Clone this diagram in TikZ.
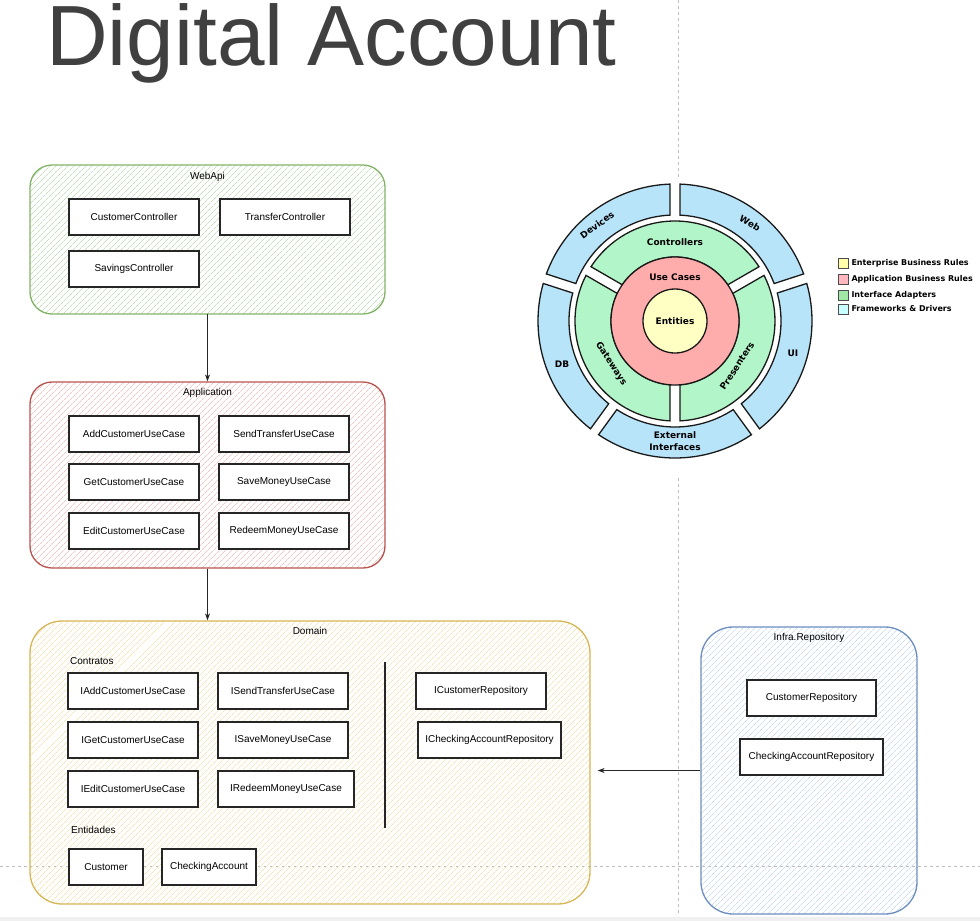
\documentclass[tikz,border=0pt]{standalone}
\usepackage{fontspec}
\setmainfont{Liberation Sans}
\newfontfamily\cebola{DejaVu Sans}
\usetikzlibrary{positioning,arrows.meta,patterns.meta}

\definecolor{titulo}{RGB}{64,64,64}
\definecolor{verdeBorda}{HTML}{82B366}
\definecolor{verdeHach}{HTML}{C6E0BE}
\definecolor{vermBorda}{HTML}{B85450}
\definecolor{vermHach}{HTML}{F3C6C4}
\definecolor{amarBorda}{HTML}{D6B656}
\definecolor{amarHach}{HTML}{F5E4B4}
\definecolor{azulBorda}{HTML}{6C8EBF}
\definecolor{azulHach}{HTML}{CCDDF5}
\definecolor{anelAzul}{RGB}{184,228,250}
\definecolor{anelVerde}{RGB}{178,245,200}
\definecolor{anelVerm}{RGB}{255,172,172}
\definecolor{anelAmar}{RGB}{255,255,196}
\definecolor{legAmar}{RGB}{255,255,170}
\definecolor{legVerm}{RGB}{255,182,190}
\definecolor{legVerde}{RGB}{160,232,165}
\definecolor{legAzul}{RGB}{200,255,255}
\definecolor{guia}{RGB}{190,190,190}

\tikzset{
  camada/.style={draw=#1, line width=1.3pt, rounded corners=22pt, inner sep=0pt},
  hachura/.style={pattern={Lines[angle=45,distance=4pt,line width=0.7pt]}, pattern color=#1},
  classe/.style={draw=black!85, fill=white, line width=1.2pt, minimum height=36pt, minimum width=130pt, inner sep=0pt, font=\fontsize{10}{12}\selectfont},
  rotulo/.style={inner sep=0pt, font=\fontsize{10}{12}\selectfont},
  seta/.style={-{Stealth[length=7pt,width=5pt]}, line width=1pt, black!85},
  anel/.style={draw=black!90, line width=1.3pt},
  nomeanel/.style={inner sep=0pt, font=\cebola\bfseries\fontsize{9}{11.5}\selectfont, align=center},
  legenda/.style={draw=black!70, line width=0.6pt, minimum size=10pt, inner sep=0pt},
  textolegenda/.style={anchor=west, inner sep=0pt, font=\cebola\bfseries\fontsize{8}{10}\selectfont},
  guiatracejada/.style={guia, line width=0.8pt, dash pattern=on 3pt off 3pt},
}

% fatia do anel: cor, raio interno, raio externo, angulo inicial, angulo final
\newcommand{\fatia}[5]{%
  \pgfmathsetmacro{\dIn}{asin(5/#2)}%
  \pgfmathsetmacro{\dOut}{asin(5/#3)}%
  \filldraw[anel, fill=#1] ({#4+\dIn}:#2) -- ({#4+\dOut}:#3)
    arc[start angle={#4+\dOut}, end angle={#5-\dOut}, radius=#3]
    -- ({#5-\dIn}:#2)
    arc[start angle={#5-\dIn}, end angle={#4+\dIn}, radius=#2] -- cycle;
}

\begin{document}
\begin{tikzpicture}[x=1pt, y=-1pt] %Desenho em pixels
\useasboundingbox (0,0) rectangle (980,921);
	%Guias
\fill[black!6] (0,916.5) rectangle (980,921);
\draw[guiatracejada] (678,0) -- (678,178);
\draw[guiatracejada] (678,478) -- (678,916);
\draw[guiatracejada] (0,866) -- (980,866);
	%Titulo
\node[anchor=base west, inner sep=0pt, text=titulo, font=\fontsize{85.5}{90}\selectfont] (titulo) at (46,65) {Digital Account};

	%WebApi
\node[camada=verdeBorda, hachura=verdeHach, minimum width=355pt, minimum height=149pt] (webapi) at (207.5,239.5) {};
\node[rotulo, below=7pt of webapi.north] (webapititulo) {WebApi};
\node[classe] (customerctrl) at (134,217) {CustomerController};
\node[classe] (transferctrl) at (285,217) {TransferController};
\node[classe] (savingsctrl) at (134,269) {SavingsController};

	%Application
\node[camada=vermBorda, hachura=vermHach, minimum width=355pt, minimum height=186pt] (application) at (207.5,475) {};
\node[rotulo, below=7pt of application.north] (applicationtitulo) {Application};
\node[classe] (adduc) at (134,434) {AddCustomerUseCase};
\node[classe] (senduc) at (284,434) {SendTransferUseCase};
\node[classe] (getuc) at (134,482) {GetCustomerUseCase};
\node[classe] (saveuc) at (284,482) {SaveMoneyUseCase};
\node[classe] (edituc) at (134,531) {EditCustomerUseCase};
\node[classe] (redeemuc) at (284,531) {RedeemMoneyUseCase};

	%Domain
\node[camada=amarBorda, hachura=amarHach, rounded corners=32pt, minimum width=560pt, minimum height=283pt] (domain) at (310,762.5) {};
\node[rotulo, below=7pt of domain.north] (domaintitulo) {Domain};
\node[rotulo, anchor=west] (contratos) at (70,661) {Contratos};
\node[classe] (iadduc) at (133,691) {IAddCustomerUseCase};
\node[classe] (isenduc) at (283,691) {ISendTransferUseCase};
\node[classe] (igetuc) at (133,740) {IGetCustomerUseCase};
\node[classe] (isaveuc) at (283,740) {ISaveMoneyUseCase};
\node[classe] (iedituc) at (133,789) {IEditCustomerUseCase};
\node[classe, minimum width=136pt] (iredeemuc) at (286,789) {IRedeemMoneyUseCase};
\draw[line width=1.2pt, black!85] (385,662) -- (385,828); %Divisao
\node[classe] (icustomerrepo) at (481,691) {ICustomerRepository};
\node[classe, minimum width=143pt] (icheckingrepo) at (489.5,740) {ICheckingAccountRepository};
\node[rotulo, anchor=west] (entidades) at (71,830) {Entidades};
\node[classe, minimum width=74pt] (customer) at (106,867) {Customer};
\node[classe, minimum width=94pt] (checking) at (209,867) {CheckingAccount};

	%Infra.Repository
\node[camada=azulBorda, hachura=azulHach, rounded corners=32pt, minimum width=216pt, minimum height=287pt] (infra) at (809,770.5) {};
\node[rotulo, below=7pt of infra.north] (infratitulo) {Infra.Repository};
\node[classe, minimum width=129pt] (customerrepo) at (811.5,698) {CustomerRepository};
\node[classe, minimum width=143pt] (checkingrepo) at (811.5,757) {CheckingAccountRepository};

	%Setas
\coordinate (domainin) at ([xshift=7pt]domain.east);
\draw[seta] (webapi) -- (application);
\draw[seta] (application.south) -- (application.south |- domain.north);
\draw[seta] (infra.west) -- (infra.west -| domainin);

	%Arquitetura limpa
\begin{scope}[shift={(675,321)}, y=1pt]
\fatia{anelAzul}{106}{137}{18}{90}
\fatia{anelAzul}{106}{137}{90}{162}
\fatia{anelAzul}{106}{137}{162}{234}
\fatia{anelAzul}{106}{137}{234}{306}
\fatia{anelAzul}{106}{137}{306}{378}
\fatia{anelVerde}{64}{100}{30}{150}
\fatia{anelVerde}{64}{100}{150}{270}
\fatia{anelVerde}{64}{100}{270}{390}
\filldraw[anel, fill=anelVerm] (0,0) circle[radius=64];
\filldraw[anel, fill=anelAmar] (0,0) circle[radius=32];
\node[nomeanel] (entities) at (0,0) {Entities};
\node[nomeanel] (usecases) at (0,44) {Use Cases};
\node[nomeanel] (controllers) at (0,79) {Controllers};
\node[nomeanel, rotate=-57] (gateways) at (-64,-43) {Gateways};
\node[nomeanel, rotate=57] (presenters) at (62,-45) {Presenters};
\node[nomeanel, rotate=36] (devices) at (-78,96) {Devices};
\node[nomeanel, rotate=-30] (web) at (75,98) {Web};
\node[nomeanel] (db) at (-113,-43) {DB};
\node[nomeanel] (ui) at (118,-32) {UI};
\node[nomeanel] (external) at (0,-120) {External\\Interfaces};
\end{scope}

	%Legenda
\node[legenda, fill=legAmar] (legent) at (843,263) {};
\node[legenda, fill=legVerm] (legapp) at (843,279) {};
\node[legenda, fill=legVerde] (legint) at (843,295) {};
\node[legenda, fill=legAzul] (legfw) at (843,309) {};
\node[textolegenda, right=3pt of legent] (legenttxt) {Enterprise Business Rules};
\node[textolegenda, right=3pt of legapp] (legapptxt) {Application Business Rules};
\node[textolegenda, right=3pt of legint] (leginttxt) {Interface Adapters};
\node[textolegenda, right=3pt of legfw] (legfwtxt) {Frameworks \& Drivers};
\end{tikzpicture}
\end{document}
